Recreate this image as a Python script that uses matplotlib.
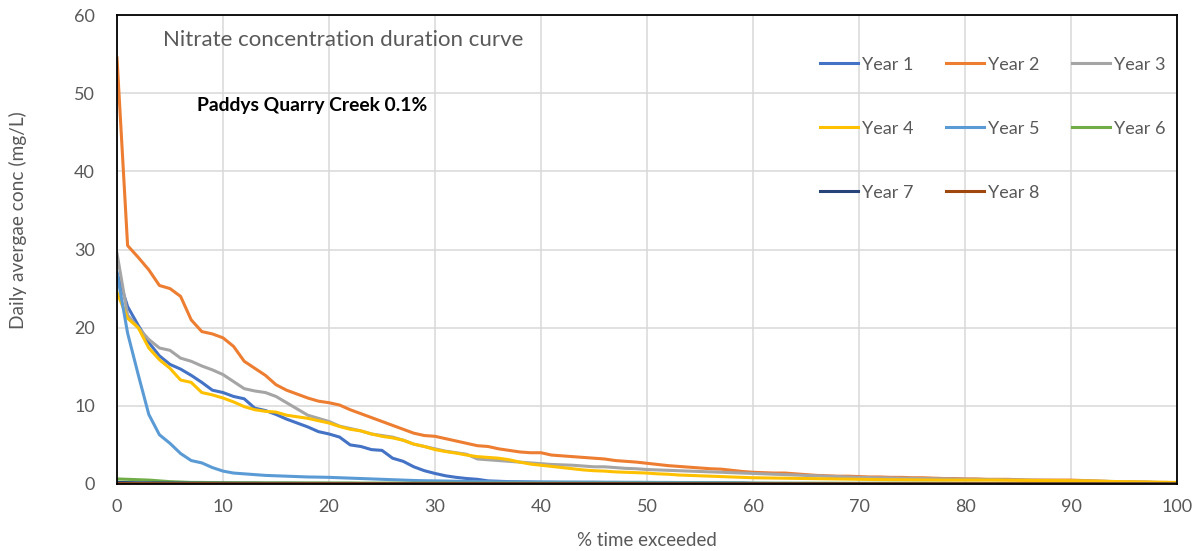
import matplotlib
matplotlib.use("Agg")
import matplotlib.pyplot as plt
import numpy as np

pct = list(range(0, 101))

year1 = [27.0, 22.7, 20.3, 18.1, 16.4, 15.3, 14.7, 13.9, 13.0, 12.0,
         11.7, 11.2, 10.9, 9.7, 9.4, 8.9, 8.3, 7.8, 7.3, 6.7,
         6.4, 6.0, 5.0, 4.8, 4.4, 4.3, 3.3, 2.9, 2.2, 1.7,
         1.35, 1.05, 0.85, 0.7, 0.6, 0.4, 0.35, 0.3, 0.28, 0.25,
         0.22, 0.21, 0.2, 0.2, 0.2, 0.2, 0.19, 0.19, 0.18, 0.18,
         0.17, 0.17, 0.16, 0.16, 0.15, 0.15, 0.14, 0.14, 0.13, 0.12,
         0.08, 0.07, 0.06, 0.05, 0.05, 0.05, 0.04, 0.04, 0.04, 0.04,
         0.03, 0.03, 0.03, 0.03, 0.03, 0.03, 0.03, 0.02, 0.02, 0.02,
         0.02, 0.02, 0.02, 0.02, 0.02, 0.02, 0.02, 0.02, 0.01, 0.01,
         0.01, 0.01, 0.01, 0.01, 0.01, 0.01, 0.01, 0.01, 0.01, 0.01,
         0.0]

year2 = [54.5, 30.5, 29.0, 27.4, 25.4, 25.0, 24.0, 21.0, 19.5, 19.2,
         18.7, 17.6, 15.7, 14.8, 13.9, 12.7, 12.0, 11.5, 11.0, 10.6,
         10.4, 10.1, 9.5, 9.0, 8.5, 8.0, 7.5, 7.0, 6.5, 6.2,
         6.1, 5.8, 5.5, 5.2, 4.9, 4.8, 4.5, 4.3, 4.1, 4.0,
         4.0, 3.7, 3.6, 3.5, 3.4, 3.3, 3.2, 3.0, 2.9, 2.8,
         2.65, 2.5, 2.35, 2.25, 2.15, 2.05, 1.95, 1.9, 1.75, 1.6,
         1.5, 1.45, 1.4, 1.4, 1.3, 1.2, 1.1, 1.05, 1.0, 1.0,
         0.95, 0.9, 0.9, 0.85, 0.85, 0.8, 0.8, 0.75, 0.7, 0.7,
         0.65, 0.65, 0.6, 0.6, 0.6, 0.55, 0.5, 0.5, 0.5, 0.5,
         0.5, 0.45, 0.4, 0.35, 0.3, 0.3, 0.25, 0.25, 0.2, 0.2,
         0.15]

year3 = [29.5, 21.6, 20.0, 18.5, 17.4, 17.1, 16.1, 15.7, 15.1, 14.6,
         14.0, 13.1, 12.2, 11.9, 11.7, 11.2, 10.4, 9.6, 8.8, 8.4,
         8.0, 7.4, 7.1, 6.8, 6.4, 6.2, 6.0, 5.6, 5.1, 4.8,
         4.5, 4.2, 4.0, 3.8, 3.2, 3.1, 3.0, 2.9, 2.8, 2.7,
         2.6, 2.5, 2.45, 2.4, 2.3, 2.2, 2.2, 2.1, 2.0, 1.95,
         1.85, 1.8, 1.75, 1.7, 1.65, 1.6, 1.55, 1.5, 1.45, 1.4,
         1.35, 1.3, 1.25, 1.2, 1.15, 1.1, 1.05, 1.0, 0.95, 0.9,
         0.85, 0.82, 0.8, 0.78, 0.75, 0.72, 0.7, 0.68, 0.66, 0.64,
         0.62, 0.6, 0.58, 0.56, 0.55, 0.53, 0.5, 0.48, 0.46, 0.44,
         0.42, 0.4, 0.38, 0.35, 0.32, 0.3, 0.27, 0.24, 0.2, 0.15,
         0.1]

year4 = [24.5, 21.2, 20.0, 17.4, 15.9, 14.8, 13.3, 13.0, 11.7, 11.4,
         11.0, 10.5, 9.9, 9.5, 9.3, 9.2, 8.8, 8.6, 8.4, 8.1,
         7.8, 7.35, 7.0, 6.8, 6.4, 6.1, 5.9, 5.6, 5.1, 4.8,
         4.4, 4.15, 3.95, 3.7, 3.5, 3.4, 3.3, 3.1, 2.8, 2.55,
         2.4, 2.25, 2.1, 1.95, 1.8, 1.7, 1.65, 1.55, 1.5, 1.45,
         1.4, 1.3, 1.25, 1.15, 1.1, 1.05, 1.0, 0.95, 0.9, 0.85,
         0.8, 0.78, 0.76, 0.74, 0.72, 0.7, 0.68, 0.66, 0.64, 0.62,
         0.6, 0.58, 0.56, 0.55, 0.54, 0.53, 0.52, 0.51, 0.5, 0.5,
         0.5, 0.5, 0.5, 0.5, 0.48, 0.47, 0.46, 0.45, 0.44, 0.43,
         0.42, 0.4, 0.38, 0.35, 0.32, 0.3, 0.28, 0.26, 0.24, 0.22,
         0.2]

year5 = [27.0, 19.3, 14.0, 8.9, 6.3, 5.2, 3.9, 3.0, 2.7, 2.1,
         1.65, 1.4, 1.3, 1.2, 1.1, 1.05, 1.0, 0.95, 0.9, 0.88,
         0.85, 0.8, 0.75, 0.7, 0.65, 0.6, 0.55, 0.5, 0.45, 0.42,
         0.4, 0.38, 0.35, 0.33, 0.3, 0.3, 0.28, 0.28, 0.27, 0.27,
         0.26, 0.26, 0.25, 0.25, 0.24, 0.24, 0.23, 0.23, 0.22, 0.22,
         0.21, 0.2, 0.2, 0.19, 0.19, 0.18, 0.17, 0.16, 0.15, 0.15,
         0.1, 0.1, 0.09, 0.09, 0.08, 0.08, 0.07, 0.07, 0.06, 0.06,
         0.05, 0.05, 0.05, 0.05, 0.04, 0.04, 0.04, 0.04, 0.03, 0.03,
         0.03, 0.03, 0.03, 0.03, 0.02, 0.02, 0.02, 0.02, 0.02, 0.02,
         0.02, 0.02, 0.01, 0.01, 0.01, 0.01, 0.01, 0.01, 0.01, 0.01,
         0.0]

year6 = [0.65, 0.6, 0.55, 0.5, 0.4, 0.3, 0.25, 0.2, 0.2, 0.18,
         0.17, 0.17, 0.16, 0.16, 0.15, 0.15, 0.15, 0.14, 0.14, 0.14,
         0.13, 0.13, 0.13, 0.12, 0.12, 0.12, 0.12, 0.11, 0.11, 0.11,
         0.11, 0.11, 0.1, 0.1, 0.1, 0.1, 0.1, 0.1, 0.1, 0.1,
         0.1, 0.1, 0.1, 0.1, 0.1, 0.1, 0.1, 0.1, 0.1, 0.1,
         0.1, 0.1, 0.1, 0.1, 0.1, 0.1, 0.1, 0.1, 0.1, 0.1,
         0.1, 0.1, 0.1, 0.1, 0.1, 0.1, 0.1, 0.1, 0.1, 0.1,
         0.1, 0.1, 0.1, 0.1, 0.1, 0.1, 0.1, 0.09, 0.09, 0.08,
         0.08, 0.08, 0.07, 0.07, 0.06, 0.06, 0.05, 0.05, 0.05, 0.04,
         0.04, 0.04, 0.03, 0.03, 0.03, 0.02, 0.02, 0.02, 0.01, 0.01,
         0.0]

year7 = [0.2, 0.18, 0.16, 0.15, 0.14, 0.13, 0.12, 0.11, 0.1, 0.1,
         0.1, 0.09, 0.09, 0.09, 0.08, 0.08, 0.08, 0.08, 0.07, 0.07,
         0.07, 0.07, 0.07, 0.06, 0.06, 0.06, 0.06, 0.06, 0.06, 0.05,
         0.05, 0.05, 0.05, 0.05, 0.05, 0.05, 0.05, 0.05, 0.05, 0.05,
         0.05, 0.05, 0.05, 0.05, 0.05, 0.05, 0.05, 0.05, 0.05, 0.05,
         0.05, 0.05, 0.05, 0.05, 0.05, 0.05, 0.05, 0.05, 0.05, 0.05,
         0.05, 0.05, 0.05, 0.05, 0.04, 0.04, 0.04, 0.04, 0.04, 0.04,
         0.04, 0.04, 0.04, 0.04, 0.04, 0.03, 0.03, 0.03, 0.03, 0.03,
         0.03, 0.03, 0.03, 0.03, 0.03, 0.02, 0.02, 0.02, 0.02, 0.02,
         0.02, 0.02, 0.02, 0.01, 0.01, 0.01, 0.01, 0.01, 0.01, 0.01,
         0.0]

year8 = [0.05, 0.04, 0.04, 0.04, 0.03, 0.03, 0.03, 0.03, 0.03, 0.03,
         0.02, 0.02, 0.02, 0.02, 0.02, 0.02, 0.02, 0.02, 0.02, 0.02,
         0.02, 0.02, 0.02, 0.02, 0.02, 0.02, 0.02, 0.02, 0.02, 0.02,
         0.02, 0.02, 0.02, 0.02, 0.02, 0.02, 0.02, 0.02, 0.02, 0.02,
         0.02, 0.02, 0.02, 0.02, 0.02, 0.02, 0.02, 0.02, 0.02, 0.02,
         0.01, 0.01, 0.01, 0.01, 0.01, 0.01, 0.01, 0.01, 0.01, 0.01,
         0.01, 0.01, 0.01, 0.01, 0.01, 0.01, 0.01, 0.01, 0.01, 0.01,
         0.01, 0.01, 0.01, 0.01, 0.01, 0.01, 0.01, 0.01, 0.01, 0.01,
         0.01, 0.01, 0.01, 0.01, 0.01, 0.01, 0.01, 0.01, 0.01, 0.01,
         0.01, 0.01, 0.01, 0.01, 0.0, 0.0, 0.0, 0.0, 0.0, 0.0,
         0.0]

series_names = ["Year 1", "Year 2", "Year 3", "Year 4",
                "Year 5", "Year 6", "Year 7", "Year 8"]
series_values = [year1, year2, year3, year4, year5, year6, year7, year8]
colors = ["#4472C4", "#ED7D31", "#A5A5A5", "#FFC000",
          "#5B9BD5", "#70AD47", "#264478", "#9E480E"]

x_ticks = [0, 10, 20, 30, 40, 50, 60, 70, 80, 90, 100]
y_ticks = [0, 10, 20, 30, 40, 50, 60]

plt.rcParams['font.family'] = ['Lato', 'DejaVu Sans']

fig = plt.figure(figsize=(12, 5.51), dpi=100)
ax = fig.add_axes([117/1200, 1 - 484/551, (1177-117)/1200, (484-15)/551])

handles = []
for name, vals, c in zip(series_names, series_values, colors):
    h, = ax.plot(pct, vals, color=c, lw=2.2, label=name, solid_joinstyle='round')
    handles.append(h)

ax.set_xlim(0, 100)
ax.set_ylim(0, 60)
ax.set_xticks(x_ticks)
ax.set_yticks(y_ticks)
ax.grid(True, color='#D9D9D9', lw=1.1)
ax.set_axisbelow(True)
ax.tick_params(length=0, labelsize=13, labelcolor='#595959')
ax.tick_params(axis='y', pad=16)
ax.tick_params(axis='x', pad=11)
for s in ax.spines.values():
    s.set_color('black')
    s.set_linewidth(1.3)

fig.text(18/1200, 1 - 220/551, "Daily avergae conc (mg/L)", rotation=90,
         ha='center', va='center', fontsize=13.8, color='#595959')
fig.text(647/1200, 1 - 541/551, "% time exceeded", ha='center', va='center',
         fontsize=13.5, color='#595959')

fig.text(163/1200, 1 - 40/551, "Nitrate concentration duration curve",
         ha='left', va='center', fontsize=16, color='#595959')
fig.text(197/1200, 1 - 106/551, "Paddys Quarry Creek 0.1%",
         ha='left', va='center', fontsize=13.9, fontweight='bold', color='black')

order = [0, 3, 6, 1, 4, 7, 2, 5]
leg = ax.legend([handles[i] for i in order], [series_names[i] for i in order],
                ncol=3, loc='upper left', bbox_to_anchor=(820/1200, 1 - 56.5/551),
                bbox_transform=fig.transFigure, frameon=False,
                fontsize=13, handlelength=2.1, handletextpad=0.22,
                columnspacing=1.8, labelspacing=2.66, borderpad=0, borderaxespad=0)
for t in leg.get_texts():
    t.set_color('#595959')

fig.savefig("out.png", dpi=100, facecolor='white')
